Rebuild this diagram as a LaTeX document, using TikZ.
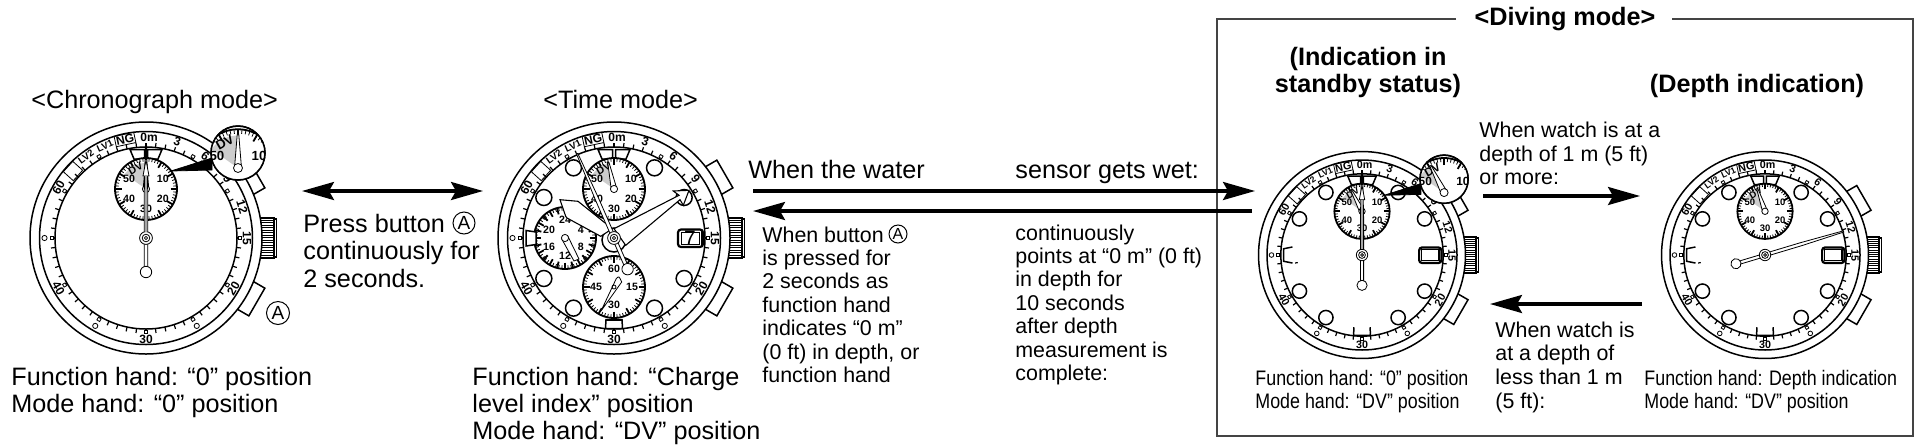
\documentclass[tikz,border=0pt]{standalone}
\usepackage{fontspec}
\setmainfont{Liberation Sans}
\newfontfamily\narrowfont[FakeStretch=0.85]{Liberation Sans}
\usetikzlibrary{arrows.meta}

\definecolor{boxcolor}{RGB}{68,68,68}
\definecolor{dvgray}{RGB}{205,205,205}

\tikzset{
    watchline/.style={line width=0.75pt,black},
    fineline/.style={line width=0.4pt,black},
    tickline/.style={line width=0.6pt,black},
    ticklabel/.style={font=\bfseries\fontsize{6}{7}\selectfont,inner sep=0pt,transform shape},
    sublabel/.style={font=\bfseries\fontsize{5.3}{6}\selectfont,inner sep=0pt,transform shape},
    bodytext/.style={font=\fontsize{12.6}{13.5}\selectfont,anchor=base west,inner sep=0pt},
    smalltext/.style={font=\fontsize{10.7}{11.7}\selectfont,anchor=base west,inner sep=0pt},
    narrowtext/.style={font=\narrowfont\fontsize{10.5}{12}\selectfont,anchor=base west,inner sep=0pt},
    headtext/.style={font=\bfseries\fontsize{12.6}{13.5}\selectfont,anchor=base,inner sep=0pt},
    buttonmark/.style={draw,circle,line width=0.5pt,inner sep=0pt,minimum size=#1,font=\fontsize{9.5}{10}\selectfont},
    flowarrow/.style={line width=1.6pt,-{Stealth[length=16pt,width=9pt,inset=2.5pt]}}
}

% Case, crown, buttons, scale ring
\newcommand{\watchbase}{
    \foreach \a in {60,120}
        \draw[watchline,fill=white,rotate=90-\a] (108,-16) rectangle (128,16);
    \foreach \y in {-18,-15.5,...,18}
        \draw[fineline] (114,\y) -- (128,\y);
    \draw[watchline] (114,-20) rectangle (128,20);
    \draw[watchline] (128,-19) rectangle (130.5,19);
    \draw[watchline,fill=white] (0,0) circle[radius=116];
    \draw[watchline] (0,0) circle[radius=106.5];
    \draw[watchline] (0,0) circle[radius=91];
    % ring ticks
    \foreach \a in {0,6,...,354}
        \draw[tickline] ({\a-90}:91) -- ({\a-90}:95.5);
    \foreach \a in {30,60,...,330}
        \draw[fineline,fill=white,rotate=90-\a] (92.5,-1.6) rectangle (95.5,1.6);
    \foreach \a in {150,210,270}
        \draw[fineline,fill=white] ({\a-90}:101.5) circle[radius=2.6];
    % ring numbers
    \foreach \a/\t/\r in {18/3/-18,36/6/-36,54/9/-54,72/12/-72,90/15/-90,120/20/60,180/30/0,240/40/-60,300/60/60}
        \node[ticklabel,rotate=\r] (ring\t) at ({\a-90}:101) {\t};
    \node[ticklabel] (ringzero) at (3,-101) {0m};
    \node[ticklabel,draw,line width=0.4pt,inner sep=0.5pt,rotate=12] (ringng) at (-21,-98.5) {NG};
    \node[ticklabel,font=\bfseries\fontsize{4.8}{6}\selectfont,rotate=24] (ringlvone) at (-41,-92) {LV1};
    \node[ticklabel,font=\bfseries\fontsize{4.8}{6}\selectfont,rotate=36] (ringlvtwo) at (-60,-81.5) {LV2};
    \node[draw,fineline,rotate=48,minimum width=7pt,minimum height=4pt,transform shape] (ringbox) at (-73,-67) {};
    % bracket above the upper dial
    \draw[watchline,fill=white] (-16,-88.5) -- (-1.5,-88.5) -- (-1.5,-79) -- (-12,-79) -- cycle;
    \draw[watchline,fill=white] (16,-88.5) -- (1.5,-88.5) -- (1.5,-79) -- (12,-79) -- cycle;
}

% Eight round hour marks
\newcommand{\hourdots}{
    \foreach \a in {30,60,120,150,210,240,300,330}
        \draw[watchline,fill=white] ({\a-90}:81) circle[radius=8];
}

% Dial rim: #1 is the second value of the thick tick list
\newcommand{\subrim}[1]{
    \draw[line width=0.9pt,fill=white] (0,0) circle[radius=31];
    \foreach \a in {0,6,...,354}
        \draw[fineline] ({\a-90}:27.5) -- ({\a-90}:31);
    \foreach \a in {0,#1,...,345}
        \draw[line width=0.9pt] ({\a-90}:24.5) -- ({\a-90}:31);
}

% Upper dial with mode hand at #1 degrees
\newcommand{\modedial}[1]{
    \subrim{30}
    \fill[dvgray] (0,0) -- plot[domain=-145:{#1-90},samples=8] (\x:26) -- cycle;
    \foreach \a/\t in {300/50,60/10,240/40,120/20,180/30}
        \node[sublabel] (dial\t) at ({\a-90}:19.5) {\t};
    \node[sublabel,rotate=30] (dialdv) at (-10.5,-20.5) {DV};
    \draw[fineline,fill=white,rotate=-(#1)] (-2.8,0) -- (-0.6,-27) -- (0.6,-27) -- (2.8,0) -- cycle;
    \draw[fineline,fill=white] (0,0) circle[radius=3.6];
}

% Magnified piece of the upper dial
\newcommand{\magnifier}[1]{
    \draw[fill=black] (25,-67) -- (66,-80) -- (66,-68) -- cycle;
    \draw[watchline,fill=white] (92,-85) circle[radius=27];
    \begin{scope}
        \clip (92,-85) circle[radius=27];
        \begin{scope}[shift={(92,-70)},scale=1.25]
            \modedial{#1}
        \end{scope}
    \end{scope}
    \draw[watchline] (92,-85) circle[radius=27];
}

% Function hand at #1 degrees
\newcommand{\fnhand}[1]{
    \begin{scope}[rotate=-(#1)]
        \draw[fineline,fill=white] (-1.8,33) -- (-1.8,-42) -- (-0.7,-92) -- (0.7,-92) -- (1.8,-42) -- (1.8,33) -- cycle;
        \draw[fineline,fill=white] (0,34) circle[radius=5.7];
    \end{scope}
    \draw[fineline,fill=white] (0,0) circle[radius=6.4];
    \draw[fineline] (0,0) circle[radius=3.8];
    \draw[fineline] (0,0) circle[radius=1.6];
}

% Black tip of the hand at zero
\newcommand{\zerotip}{
    \fill[black] (-1.2,-93) rectangle (1.2,-78);
    \draw[fineline,fill=white] (-3,-62) -- (0,-78) -- (3,-62) -- cycle;
    \fill[gray!70] (-1.3,-62) rectangle (1.3,-6.5);
}

% Date window, #1 is the digit
\newcommand{\datewindow}[1]{
    \draw[line width=1.1pt,rounded corners=1.5pt] (64,-8.5) rectangle (89,9);
    \draw[fineline] (67,-6) rectangle (85.5,6.5);
    \draw[fineline] (87,-8.5) -- (87,9);
    \node[inner sep=0pt,font=\fontsize{10.5}{12}\selectfont] (datedigit) at (76,0) {#1};
}

% Open brackets of the diving dials
\newcommand{\openbrackets}{
    \draw[watchline] (-78,-9) -- (-88,-7) -- (-88,7) -- (-78,9);
    \draw[tickline] (-75,9) -- (-72,8.5);
    \draw[watchline] (-9,81) -- (-9.5,90) -- (9.5,90) -- (9,81);
}

\begin{document}
\begin{tikzpicture}[x=0.5pt,y=-0.5pt]
    \useasboundingbox (0,0) rectangle (1920,445);

    % Frame of the diving mode
    \coordinate (frameleft) at (1456,19);
    \coordinate (frameright) at (1672,19);
    \draw[boxcolor,line width=0.9pt] (frameleft) -- (1217,19) -- (1217,436) -- (1913,436) -- (1913,19) -- (frameright);
    \node[headtext] (divehead) at (1565,25) {<Diving mode>};
    \node[headtext] (standbyone) at (1368,65) {(Indication in};
    \node[headtext] (standbytwo) at (1368,92) {standby status)};
    \node[headtext] (depthhead) at (1757,92) {(Depth indication)};

    % Chronograph watch
    \begin{scope}[shift={(146,238)}]
        \watchbase
        \begin{scope}[shift={(0,-49)}]
            \modedial{0}
        \end{scope}
        \magnifier{0}
        \fnhand{0}
        \zerotip
    \end{scope}

    % Time watch
    \begin{scope}[shift={(614,238)}]
        \watchbase
        \hourdots
        \begin{scope}[shift={(0,-49)}]
            \modedial{-12}
        \end{scope}
        \begin{scope}[shift={(-49,0)}]
            \subrim{15}
            \foreach \a/\t in {0/24,62/4,118/8,180/12,242/16,298/20}
                \node[sublabel] (left\t) at ({\a-90}:18) {\t};
            \draw[fineline,fill=white] (3,-1.5) -- (14,21) -- (9,23) -- (-3,1.5) -- cycle;
            \draw[fineline,fill=white] (0,0) circle[radius=3.6];
        \end{scope}
        \begin{scope}[shift={(0,49)}]
            \subrim{30}
            \foreach \a/\t in {0/60,90/15,180/30,270/45}
                \node[sublabel] (low\t) at ({\a-90}:18) {\t};
            \draw[fineline,fill=white] (-13,24) -- (2.3,-8.5) .. controls (5,-11) .. (7.7,-5) -- cycle;
            \draw[fineline] (0,0) circle[radius=2];
        \end{scope}
        \draw[watchline,fill=white] (-8,81.5) -- (8,81.5) -- (8.5,90.5) -- (-8.5,90.5) -- cycle;
        \fill[black] (-8,81.5) rectangle (8,83);
        \draw[watchline,fill=white] (-78,-6) -- (-88,-7.5) -- (-88,8) -- (-78,6.5) -- cycle;
        \datewindow{7}
        % hands
        \draw[watchline,fill=white] (0,2) circle[radius=12];
        \draw[line width=0.55pt,fill=white] (-13.3,-1.7) -- (-47,-20) -- (-48.3,-21.7) -- (-54,-38.3) -- (-36,-36.7) -- (-1.7,-9.3) -- cycle;
        \draw[line width=0.55pt,fill=white] (0,-9.3) -- (65,-42.7) -- (59.3,-47) -- (75,-47.7) -- (69.3,-32.7) -- (66,-38.3) -- (11.7,7.3) -- cycle;
        \fnhand{336.4}
    \end{scope}

    % Standby watch
    \begin{scope}[shift={(1362,255)},scale=0.892]
        \watchbase
        \hourdots
        \openbrackets
        \begin{scope}[shift={(0,-49)}]
            \modedial{-27}
        \end{scope}
        \magnifier{-27}
        \datewindow{}
        \fnhand{0}
        \zerotip
    \end{scope}

    % Depth watch
    \begin{scope}[shift={(1765,255)},scale=0.892]
        \watchbase
        \hourdots
        \openbrackets
        \begin{scope}[shift={(0,-49)}]
            \modedial{-19}
        \end{scope}
        \datewindow{}
        \fnhand{73.3}
    \end{scope}

    % Arrows
    \coordinate (pressl) at (302,191);
    \coordinate (pressr) at (483,191);
    \coordinate (wetl) at (753,191);
    \coordinate (wetr) at (1255,191);
    \coordinate (backl) at (753,211);
    \coordinate (backr) at (1252,211);
    \coordinate (deepl) at (1483,196);
    \coordinate (deepr) at (1640,196);
    \coordinate (shallowl) at (1490,304);
    \coordinate (shallowr) at (1642,304);
    \draw[line width=1.6pt,{Stealth[length=16pt,width=9pt,inset=2.5pt]}-{Stealth[length=16pt,width=9pt,inset=2.5pt]}] (pressl) -- (pressr);
    \draw[flowarrow] (wetl) -- (wetr);
    \draw[flowarrow] (backr) -- (backl);
    \draw[flowarrow] (deepl) -- (deepr);
    \draw[flowarrow] (shallowr) -- (shallowl);

    % Mode titles
    \node[bodytext] (chronotitle) at (31,108) {<Chronograph mode>};
    \node[bodytext] (timetitle) at (543,108) {<Time mode>};

    % Button marks
    \node[buttonmark=11.5pt] (btnmark) at (278,313) {A};
    \node[buttonmark=11pt] (pressmark) at (464,223) {A};
    \node[buttonmark=9pt,font=\fontsize{8}{9}\selectfont] (backmark) at (898,234) {A};

    % Texts under the watches
    \foreach \t [count=\i] in {Function hand: “0” position,Mode hand: “0” position}
        \node[bodytext] (chronolabel\i) at (11,{385+27*(\i-1)}) {\t};
    \foreach \t [count=\i] in {Function hand: “Charge,level index” position,Mode hand: “DV” position}
        \node[bodytext] (timelabel\i) at (472,{385+27*(\i-1)}) {\t};
    \foreach \t [count=\i] in {Function hand: “0” position,Mode hand: “DV” position}
        \node[narrowtext] (standbylabel\i) at (1255,{385+23.5*(\i-1)}) {\t};
    \foreach \t [count=\i] in {Function hand: Depth indication,Mode hand: “DV” position}
        \node[narrowtext] (depthlabel\i) at (1644,{385+23.5*(\i-1)}) {\t};

    % Texts at the arrows
    \node[bodytext] (press1) at (303,232) {Press button};
    \node[bodytext] (press2) at (303,259) {continuously for};
    \node[bodytext] (press3) at (303,287) {2 seconds.};
    \node[bodytext] (wetone) at (748,178) {When the water};
    \node[bodytext] (wettwo) at (1015,178) {sensor gets wet:};
    \foreach \t [count=\i] in {When button,is pressed for,2 seconds as,function hand,indicates “0 m”,{(0 ft) in depth, or},function hand}
        \node[smalltext] (back\i) at (762,{242+23.4*(\i-1)}) {\t};
    \foreach \t [count=\i] in {continuously,points at “0 m” (0 ft),in depth for,10 seconds,after depth,measurement is,complete:}
        \node[smalltext] (stay\i) at (1015,{240+23.4*(\i-1)}) {\t};
    \foreach \t [count=\i] in {When watch is at a,depth of 1 m (5 ft),or more:}
        \node[smalltext] (deep\i) at (1479,{137.5+23.7*(\i-1)}) {\t};
    \foreach \t [count=\i] in {When watch is,at a depth of,less than 1 m,(5 ft):}
        \node[smalltext] (shallow\i) at (1495,{337+23.7*(\i-1)}) {\t};
\end{tikzpicture}
\end{document}
